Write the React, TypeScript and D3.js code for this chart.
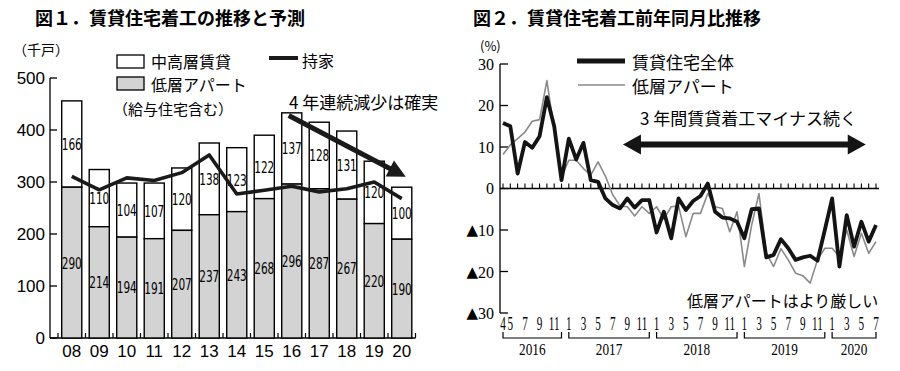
import { useEffect, useRef } from 'react';
import * as d3 from 'd3';

// ---- Fig.1 data (thousand units) ----
const fiscalYears = ['08', '09', '10', '11', '12', '13', '14', '15', '16', '17', '18', '19', '20'];
const lowRise = [290, 214, 194, 191, 207, 237, 243, 268, 296, 287, 267, 220, 190];
const midHighRise = [166, 110, 104, 107, 120, 138, 123, 122, 137, 128, 131, 120, 100];
const ownerOccupied = [311, 285, 308, 303, 318, 352, 277, 284, 292, 281, 287, 300, 268];
const leftTicks = [0, 100, 200, 300, 400, 500];

// ---- Fig.2 data (YoY %, 2016-04 .. 2020-07) ----
const rentalTotal = [
    15.8, 15, 3.6, 11.2, 9.8, 12.6, 22, 15, 2,
    12, 7, 11, 2, 1.6, -2.4, -4, -4.8, -2.4, -4.6, -2.8, -2.8,
    -10.6, -5.6, -12, -2.4, -5.2, -3, -1.8, 1.2, -5.6, -7, -7.2, -8,
    -12, -5, -4.8, -16.6, -16, -12.2, -14.4, -17.2, -16.6, -16.2, -17.4, -10,
    -2.4, -18.8, -6.4, -14, -8, -12.8, -8.8,
];
const lowRiseApt = [
    8.2, 10.5, 12, 13.6, 16.2, 16.6, 26, 14, 2.8,
    6.8, 6.8, 4.8, 3.2, 6.4, 3, -1.5, -4.2, -4.4, -6.6, -4.4, -6,
    -4.4, -7.4, -4.4, -4.2, -11.6, -6, -6, -1.2, -4.4, -4.8, -10.4, -5.6,
    -18.8, -8.8, -1.2, -15.6, -18.8, -14.5, -17.2, -20.4, -21, -22.8, -17.2, -14.4,
    -14.4, -16.4, -10, -16.4, -10.8, -15.6, -12.8,
];
const monthLabels = [
    '4', '5', '', '7', '', '9', '', '11', '',
    '1', '', '3', '', '5', '', '7', '', '9', '', '11', '',
    '1', '', '3', '', '5', '', '7', '', '9', '', '11', '',
    '1', '', '3', '', '5', '', '7', '', '9', '', '11', '',
    '1', '', '3', '', '5', '', '7',
];
const yearGroups = ['2016', '2017', '2018', '2019', '2020'];
const yearFirstMonth = [0, 9, 21, 33, 45];
const yearLastMonth = [8, 20, 32, 44, 51];
const rightTicks = [30, 20, 10, 0, -10, -20, -30];

const JP = '"Noto Sans CJK JP", "Noto Sans", sans-serif';
const SANS = '"DejaVu Sans", sans-serif';
const AXIS = '"Liberation Sans", sans-serif';
const SERIF = '"Liberation Serif", serif';

// polygon for a thick arrow (single or double headed)
function arrowPoints(x1: number, y1: number, x2: number, y2: number, shaft: number, headLen: number, headHalf: number, double: boolean) {
    const len = Math.hypot(x2 - x1, y2 - y1);
    const ux = (x2 - x1) / len, uy = (y2 - y1) / len;
    const nx = -uy, ny = ux;
    const w = shaft / 2;
    const p = (x: number, y: number, k: number) => [x + nx * k, y + ny * k];
    const bx = x2 - ux * headLen, by = y2 - uy * headLen;
    let pts: number[][];
    if (double) {
        const ax = x1 + ux * headLen, ay = y1 + uy * headLen;
        pts = [[x1, y1], p(ax, ay, headHalf), p(ax, ay, w), p(bx, by, w), p(bx, by, headHalf), [x2, y2],
            p(bx, by, -headHalf), p(bx, by, -w), p(ax, ay, -w), p(ax, ay, -headHalf)];
    } else {
        pts = [p(x1, y1, w), p(bx, by, w), p(bx, by, headHalf), [x2, y2], p(bx, by, -headHalf), p(bx, by, -w), p(x1, y1, -w)];
    }
    return pts.map(d => d.join(',')).join(' ');
}

const App = () => {
    const svgRef = useRef<SVGSVGElement>(null);

    useEffect(() => {
        if (!svgRef.current) return;
        const svg = d3.select(svgRef.current);
        svg.selectAll('*').remove();

        // ================= Fig.1 =================
        svg.append('text').attr('x', 35).attr('y', 17).attr('dominant-baseline', 'central')
            .style('font-family', JP).style('font-size', '18px').style('font-weight', 'bold')
            .text('図１．賃貸住宅着工の推移と予測');

        const x = d3.scaleBand().domain(fiscalYears).range([58, 415.5]).paddingInner(0.27).paddingOuter(0.135);
        const y = d3.scaleLinear().domain([0, 500]).range([338, 78]);
        const step = x.step();

        const g1 = svg.append('g');
        // axes
        g1.append('line').attr('x1', 50).attr('x2', 50).attr('y1', y(500)).attr('y2', y(0)).attr('stroke', '#000').attr('stroke-width', 1.3);
        g1.append('line').attr('x1', 50).attr('x2', 415.5).attr('y1', y(0)).attr('y2', y(0)).attr('stroke', '#000').attr('stroke-width', 1.3);
        leftTicks.forEach(t => {
            g1.append('line').attr('x1', 50).attr('x2', 57).attr('y1', y(t)).attr('y2', y(t)).attr('stroke', '#000').attr('stroke-width', 1.3);
            g1.append('text').attr('x', 45).attr('y', y(t)).attr('text-anchor', 'end').attr('dominant-baseline', 'central')
                .style('font-family', AXIS).style('font-size', '17px').text(t);
        });
        d3.range(fiscalYears.length + 1).forEach(i => {
            const xx = 58 + i * step;
            g1.append('line').attr('x1', xx).attr('x2', xx).attr('y1', y(0)).attr('y2', y(0) - 5).attr('stroke', '#000').attr('stroke-width', 1.2);
        });
        fiscalYears.forEach(fy => {
            g1.append('text').attr('x', x(fy)! + x.bandwidth() / 2).attr('y', 351).attr('text-anchor', 'middle').attr('dominant-baseline', 'central')
                .style('font-family', AXIS).style('font-size', '17px').text(fy);
        });

        // bars
        fiscalYears.forEach((fy, i) => {
            const bx = x(fy)!, bw = x.bandwidth();
            const lo = lowRise[i], hi = midHighRise[i];
            g1.append('rect').attr('x', bx).attr('y', y(lo + hi)).attr('width', bw).attr('height', y(lo) - y(lo + hi))
                .attr('fill', '#fff').attr('stroke', '#000').attr('stroke-width', 1.4);
            g1.append('rect').attr('x', bx).attr('y', y(lo)).attr('width', bw).attr('height', y(0) - y(lo))
                .attr('fill', '#d3d3d3').attr('stroke', '#000').attr('stroke-width', 1.4);
            const cx = bx + bw / 2;
            [[lo / 2, lo], [lo + hi / 2, hi]].forEach(([mid, v]) => {
                g1.append('text').attr('transform', `translate(${cx},${y(mid)}) scale(0.66,1)`)
                    .attr('text-anchor', 'middle').attr('dominant-baseline', 'central')
                    .style('font-family', SANS).style('font-size', '16px').text(v);
            });
        });

        // owner-occupied line
        const line1 = d3.line<number>().x((_, i) => x(fiscalYears[i])! + x.bandwidth() / 2).y(d => y(d));
        g1.append('path').datum(ownerOccupied).attr('d', line1).attr('fill', 'none')
            .attr('stroke', '#1a1a1a').attr('stroke-width', 3.6).attr('stroke-linejoin', 'round');

        // trend arrow
        const ax1 = x('16')! + x.bandwidth() / 2 - 3, ay1 = y(428);
        const ax2 = x('20')! + x.bandwidth() / 2 + 4, ay2 = y(310);
        g1.append('polygon').attr('points', arrowPoints(ax1, ay1, ax2, ay2, 5, 18, 9, false)).attr('fill', '#1a1a1a');
        g1.append('text').attr('x', 289).attr('y', 101).attr('dominant-baseline', 'central')
            .style('font-family', JP).style('font-size', '17px').text('4 年連続減少は確実');

        // legend & unit
        g1.append('text').attr('x', 13).attr('y', 49).attr('dominant-baseline', 'central')
            .style('font-family', JP).style('font-size', '14px').text('（千戸）');
        g1.append('rect').attr('x', 117).attr('y', 55).attr('width', 27).attr('height', 13).attr('fill', '#fff').attr('stroke', '#000').attr('stroke-width', 1.3);
        g1.append('rect').attr('x', 117).attr('y', 77).attr('width', 27).attr('height', 13).attr('fill', '#d3d3d3').attr('stroke', '#000').attr('stroke-width', 1.3);
        g1.append('text').attr('x', 151).attr('y', 61).attr('dominant-baseline', 'central').style('font-family', JP).style('font-size', '16px').text('中高層賃貸');
        g1.append('text').attr('x', 151).attr('y', 84).attr('dominant-baseline', 'central').style('font-family', JP).style('font-size', '16px').text('低層アパート');
        g1.append('text').attr('x', 113).attr('y', 108).attr('dominant-baseline', 'central').style('font-family', JP).style('font-size', '15px').text('（給与住宅含む）');
        g1.append('line').attr('x1', 269).attr('x2', 298).attr('y1', 58).attr('y2', 58).attr('stroke', '#1a1a1a').attr('stroke-width', 4);
        g1.append('text').attr('x', 302).attr('y', 60).attr('dominant-baseline', 'central').style('font-family', JP).style('font-size', '16px').text('持家');

        // ================= Fig.2 =================
        svg.append('text').attr('x', 473).attr('y', 17).attr('dominant-baseline', 'central')
            .style('font-family', JP).style('font-size', '18px').style('font-weight', 'bold')
            .text('図２．賃貸住宅着工前年同月比推移');

        const xr = d3.scaleLinear().domain([0, rentalTotal.length - 1]).range([503, 876]);
        const yr = d3.scaleLinear().domain([-30, 30]).range([313, 64]);
        const g2 = svg.append('g');

        g2.append('line').attr('x1', 500).attr('x2', 500).attr('y1', yr(30)).attr('y2', yr(-30)).attr('stroke', '#000').attr('stroke-width', 1.3);
        rightTicks.forEach(t => {
            g2.append('line').attr('x1', 500).attr('x2', 508).attr('y1', yr(t)).attr('y2', yr(t)).attr('stroke', '#000').attr('stroke-width', 1.3);
            const lbl = g2.append('text').attr('x', 494).attr('y', yr(t)).attr('text-anchor', 'end').attr('dominant-baseline', 'central')
                .style('font-family', SERIF).style('font-size', '16px');
            if (t < 0) {
                lbl.append('tspan').style('font-family', SANS).style('font-size', '15px').text('▲');
                lbl.append('tspan').text(`${-t}`);
            } else {
                lbl.text(`${t}`);
            }
        });
        g2.append('line').attr('x1', 500).attr('x2', 879).attr('y1', yr(0)).attr('y2', yr(0)).attr('stroke', '#000').attr('stroke-width', 1.3);
        monthLabels.forEach((m, i) => {
            g2.append('line').attr('x1', xr(i)).attr('x2', xr(i)).attr('y1', yr(0)).attr('y2', yr(0) - 5).attr('stroke', '#000').attr('stroke-width', 1.1);
            if (m) {
                g2.append('text').attr('transform', `translate(${xr(i)},${324}) scale(0.62,1)`)
                    .attr('text-anchor', 'middle').attr('dominant-baseline', 'central')
                    .style('font-family', SERIF).style('font-size', '18px').text(m);
            }
        });
        yearGroups.forEach((yy, k) => {
            const a = xr(yearFirstMonth[k]), b = xr(yearLastMonth[k]);
            g2.append('path').attr('d', `M${a},332V338H${b}V332`).attr('fill', 'none').attr('stroke', '#000').attr('stroke-width', 1.2);
            g2.append('text').attr('transform', `translate(${(a + b) / 2},${349}) scale(0.78,1)`)
                .attr('text-anchor', 'middle').attr('dominant-baseline', 'central')
                .style('font-family', SERIF).style('font-size', '17px').text(yy);
        });

        const line2 = d3.line<number>().x((_, i) => xr(i)).y(d => yr(d));
        g2.append('path').datum(lowRiseApt).attr('d', line2).attr('fill', 'none')
            .attr('stroke', '#8a8a8a').attr('stroke-width', 1.6).attr('stroke-linejoin', 'round');
        g2.append('path').datum(rentalTotal).attr('d', line2).attr('fill', 'none')
            .attr('stroke', '#141414').attr('stroke-width', 3.8).attr('stroke-linejoin', 'round');

        // legend
        g2.append('text').attr('x', 480).attr('y', 45).attr('dominant-baseline', 'central').style('font-family', JP).style('font-size', '13px').text('(%)');
        g2.append('line').attr('x1', 577).attr('x2', 625).attr('y1', 61).attr('y2', 61).attr('stroke', '#141414').attr('stroke-width', 5);
        g2.append('text').attr('x', 632).attr('y', 61).attr('dominant-baseline', 'central').style('font-family', JP).style('font-size', '17px').text('賃貸住宅全体');
        g2.append('line').attr('x1', 578).attr('x2', 625).attr('y1', 85).attr('y2', 85).attr('stroke', '#8a8a8a').attr('stroke-width', 1.6);
        g2.append('text').attr('x', 632).attr('y', 85).attr('dominant-baseline', 'central').style('font-family', JP).style('font-size', '17px').text('低層アパート');

        // annotations
        g2.append('text').attr('x', 640).attr('y', 117).attr('dominant-baseline', 'central').style('font-family', JP).style('font-size', '17px').text('3 年間賃貸着工マイナス続く');
        g2.append('polygon').attr('points', arrowPoints(xr(16.4), yr(10.6), xr(49.6), yr(10.6), 6, 18, 10, true)).attr('fill', '#141414');
        g2.append('text').attr('x', 687).attr('y', 300).attr('dominant-baseline', 'central').style('font-family', JP).style('font-size', '16px').text('低層アパートはより厳しい');
    }, []);

    return (
        <svg ref={svgRef} width={900} height={371}
            style={{ position: 'absolute', left: 0, top: 0, background: '#fff' }}></svg>
    );
};

export default App;
